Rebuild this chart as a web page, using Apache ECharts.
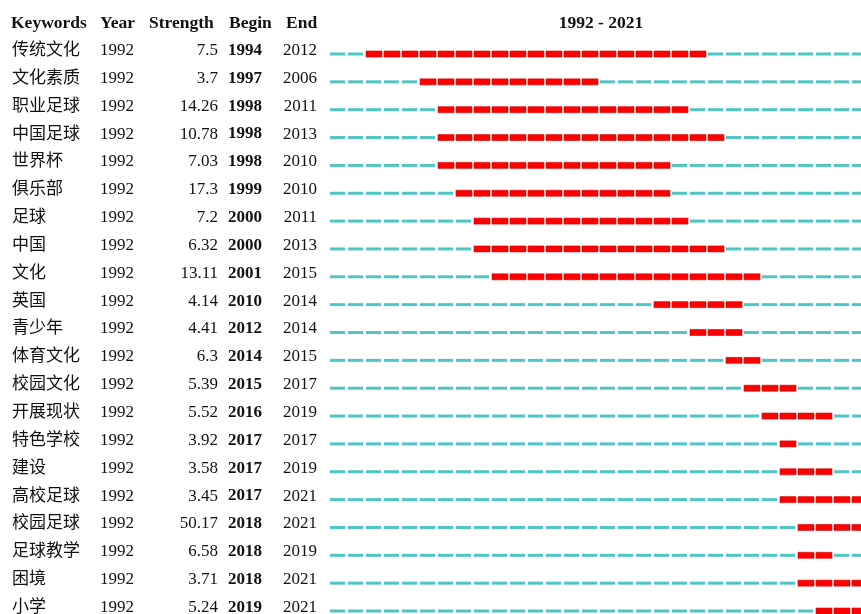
<!DOCTYPE html>
<html><head><meta charset="utf-8">
<script src="https://cdn.jsdelivr.net/npm/echarts@6/dist/echarts.min.js"></script>
<style>html,body{margin:0;padding:0;background:#fff}#c{width:861px;height:614px}</style>
</head><body><div id="c"></div>
<script>
var keywords = ['传统文化','文化素质','职业足球','中国足球','世界杯','俱乐部','足球','中国','文化','英国','青少年','体育文化','校园文化','开展现状','特色学校','建设','高校足球','校园足球','足球教学','困境','小学'];
var firstYear = [1992,1992,1992,1992,1992,1992,1992,1992,1992,1992,1992,1992,1992,1992,1992,1992,1992,1992,1992,1992,1992];
var strength = ['7.5','3.7','14.26','10.78','7.03','17.3','7.2','6.32','13.11','4.14','4.41','6.3','5.39','5.52','3.92','3.58','3.45','50.17','6.58','3.71','5.24'];
var beginYear = [1994,1997,1998,1998,1998,1999,2000,2000,2001,2010,2012,2014,2015,2016,2017,2017,2017,2018,2018,2018,2019];
var endYear = [2012,2006,2011,2013,2010,2010,2011,2013,2015,2014,2014,2015,2017,2019,2017,2019,2021,2021,2019,2021,2021];
var headers = ['Keywords','Year','Strength','Begin','End'];
var rangeStart = 1992, rangeEnd = 2021;

var SERIF = '"Liberation Serif","Noto Sans CJK SC",serif';
var data = keywords.map(function(k,i){ return [i, beginYear[i], endYear[i]]; });

var chart = echarts.init(document.getElementById('c'));
var headerX = [11, 100, 149, 229, 286];
chart.setOption({
  animation:false,
  backgroundColor:'#ffffff',
  grid:{left:330, top:40.075, width:540, height:584.85, containLabel:false, outerBoundsMode:'none'},
  xAxis:{type:'value', min:rangeStart, max:rangeEnd+1, show:false},
  yAxis:{type:'category', data:keywords, inverse:true,
    axisLine:{show:false}, axisTick:{show:false}, splitLine:{show:false},
    axisLabel:{
      align:'left', margin:318, padding:[0,0,7,0], verticalAlign:'middle',
      formatter:function(v, i){
        return '{kw|'+v+'}{yr|'+firstYear[i]+'}{st|'+strength[i]+'}{bg|'+beginYear[i]+'}{en|'+endYear[i]+'}';
      },
      rich:{
        kw:{width:88, align:'left', fontSize:17, fontFamily:SERIF, color:'#111'},
        yr:{width:33, align:'left', fontSize:17, fontFamily:SERIF, color:'#111'},
        st:{width:85, align:'right', fontSize:17, fontFamily:SERIF, color:'#111'},
        bg:{width:44, align:'right', fontSize:17, fontWeight:'bold', fontFamily:SERIF, color:'#111'},
        en:{width:55, align:'right', fontSize:17, fontFamily:SERIF, color:'#111'}
      }
    }
  },
  graphic: headers.map(function(h,i){
    return {type:'text', x:headerX[i], y:23, style:{text:h, font:'bold 17.5px '+SERIF, fill:'#111', align:'left', verticalAlign:'middle'}};
  }).concat([{type:'text', x:601, y:23, style:{text:rangeStart+' - '+rangeEnd, font:'bold 17.5px '+SERIF, fill:'#111', align:'center', verticalAlign:'middle'}}]),
  series:[{
    type:'custom', clip:false, data:data, encode:{x:[1,2], y:0},
    renderItem:function(params, api){
      var row = api.value(0), b = api.value(1), e = api.value(2);
      var children = [];
      for (var yr = rangeStart; yr <= rangeEnd; yr++){
        var p0 = api.coord([yr, row]), p1 = api.coord([yr+1, row]);
        var w = p1[0]-p0[0];
        if (yr >= b && yr <= e){
          children.push({type:'rect', shape:{x:p0[0], y:p0[1]-3, width:w-2, height:6}, style:{fill:'#FF0000', stroke:'#D40000', lineWidth:0.6}});
        } else {
          children.push({type:'rect', shape:{x:p0[0], y:p0[1]-1.5, width:w-3, height:3}, style:{fill:'#4FC5C5'}});
        }
      }
      return {type:'group', children:children};
    }
  }]
});
</script></body></html>
